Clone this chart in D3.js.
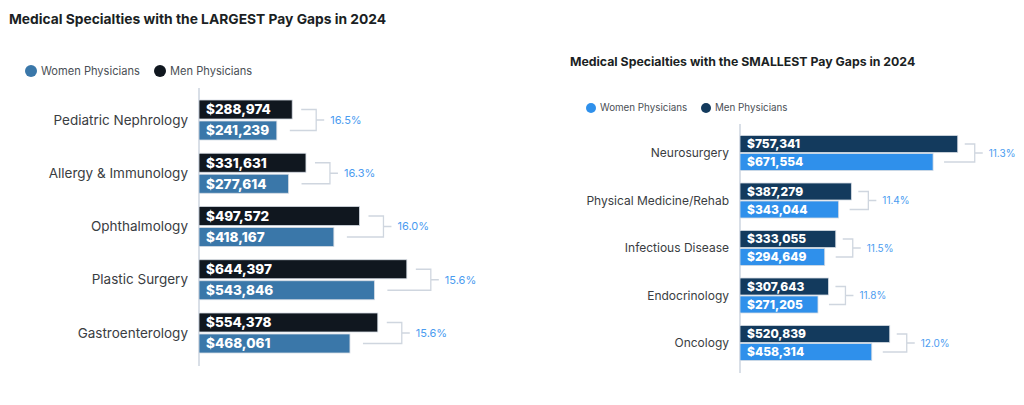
<!DOCTYPE html>
<html>
<head>
<meta charset="utf-8">
<script src="https://cdn.jsdelivr.net/npm/d3@7"></script>
<style>
  body { margin: 0; background: #fff; }
  svg { display: block; font-family: Inter, "Noto Sans", sans-serif; }
</style>
</head>
<body>
<div id="chart"></div>
<script>
// left panel: largest gaps
const largestCats = ['Pediatric Nephrology', 'Allergy & Immunology', 'Ophthalmology', 'Plastic Surgery', 'Gastroenterology'];
const largestMen = [288974, 331631, 497572, 644397, 554378];
const largestWomen = [241239, 277614, 418167, 543846, 468061];
const largestGap = ['16.5%', '16.3%', '16.0%', '15.6%', '15.6%'];

// right panel: smallest gaps
const smallestCats = ['Neurosurgery', 'Physical Medicine/Rehab', 'Infectious Disease', 'Endocrinology', 'Oncology'];
const smallestMen = [757341, 387279, 333055, 307643, 520839];
const smallestWomen = [671554, 343044, 294649, 271205, 458314];
const smallestGap = ['11.3%', '11.4%', '11.5%', '11.8%', '12.0%'];

const legendLabels = ['Women Physicians', 'Men Physicians'];

const svg = d3.select('#chart').append('svg')
  .attr('width', 1024).attr('height', 405);

const fmt = (v) => '$' + d3.format(',')(v);

const drawPanel = (cfg) => {
  const g = svg.append('g');

  g.append('text')
    .attr('x', cfg.titleX).attr('y', cfg.titleY)
    .attr('font-size', cfg.titleSize).attr('font-weight', 700)
    .attr('fill', '#1b1f24')
    .text(cfg.title);

  // legend
  const leg = g.append('g');
  [cfg.womenColor, cfg.menColor].forEach((c, i) => {
    leg.append('circle')
      .attr('cx', cfg.legX[i]).attr('cy', cfg.legY).attr('r', cfg.legR)
      .attr('fill', c);
    leg.append('text')
      .attr('x', cfg.legX[i] + cfg.legR + 4).attr('y', cfg.legY)
      .attr('dy', '0.35em')
      .attr('font-size', cfg.legSize).attr('fill', '#4a4f55')
      .text(legendLabels[i]);
  });

  const x = d3.scaleLinear().domain([0, 800000]).range([cfg.axisX, cfg.axisX + cfg.width]);
  const y = d3.scalePoint().domain(cfg.cats).range(cfg.yRange);

  g.append('line')
    .attr('x1', cfg.axisX).attr('x2', cfg.axisX)
    .attr('y1', cfg.axisTop).attr('y2', cfg.axisBottom)
    .attr('stroke', '#cdd5df').attr('stroke-width', 1.5);

  const rows = cfg.cats.map((c, i) => ({
    cat: c, men: cfg.men[i], women: cfg.women[i], gap: cfg.gap[i]
  }));

  const row = g.selectAll('g.row').data(rows).enter().append('g').attr('class', 'row');

  row.append('text')
    .attr('x', cfg.axisX - 11).attr('y', (d) => y(d.cat))
    .attr('dy', '0.35em').attr('text-anchor', 'end')
    .attr('font-size', cfg.catSize).attr('fill', '#3a3d42')
    .text((d) => d.cat);

  const h = cfg.barH;
  const half = cfg.barGap / 2;

  row.append('rect')
    .attr('x', x(0)).attr('y', (d) => y(d.cat) - half - h)
    .attr('width', (d) => x(d.men) - x(0)).attr('height', h)
    .attr('fill', cfg.menColor).attr('stroke', '#d5dbe3').attr('stroke-width', 0.8);

  row.append('rect')
    .attr('x', x(0)).attr('y', (d) => y(d.cat) + half)
    .attr('width', (d) => x(d.women) - x(0)).attr('height', h)
    .attr('fill', cfg.womenColor).attr('stroke', '#d5dbe3').attr('stroke-width', 0.8);

  row.append('text')
    .attr('x', x(0) + cfg.valPad).attr('y', (d) => y(d.cat) - half - h / 2)
    .attr('dy', '0.36em')
    .attr('font-size', cfg.valSize).attr('font-weight', 800).attr('fill', '#fff')
    .text((d) => fmt(d.men));

  row.append('text')
    .attr('x', x(0) + cfg.valPad).attr('y', (d) => y(d.cat) + half + h / 2)
    .attr('dy', '0.36em')
    .attr('font-size', cfg.valSize).attr('font-weight', 800).attr('fill', '#fff')
    .text((d) => fmt(d.women));

  // brackets
  const vx = (d) => x(Math.max(d.men, d.women)) + cfg.brk;
  row.append('path')
    .attr('fill', 'none').attr('stroke', '#cfd6df').attr('stroke-width', 1.3)
    .attr('d', (d) => {
      const ym = y(d.cat) - half - h / 2;
      const yw = y(d.cat) + half + h / 2;
      const v = vx(d);
      return `M${x(d.men) + cfg.brkPad},${ym}H${v}V${yw}H${x(d.women) + cfg.brkPad + 4}` +
        `M${v},${y(d.cat)}H${v + cfg.tick}`;
    });

  row.append('text')
    .attr('x', (d) => vx(d) + cfg.tick + 6).attr('y', (d) => y(d.cat))
    .attr('dy', '0.35em')
    .attr('font-size', cfg.gapSize).attr('fill', '#4b9cf0')
    .text((d) => d.gap);
};

drawPanel({
  title: 'Medical Specialties with the LARGEST Pay Gaps in 2024',
  titleX: 9, titleY: 24, titleSize: 13.8,
  legX: [31, 160], legY: 71, legR: 6, legSize: 11.1,
  cats: largestCats, men: largestMen, women: largestWomen, gap: largestGap,
  menColor: '#10171f', womenColor: '#3a77a9',
  axisX: 199, width: 258, axisTop: 88, axisBottom: 366,
  yRange: [120, 333], barH: 19, barGap: 2,
  catSize: 13.5, valSize: 13.5, valPad: 7,
  brk: 24, brkPad: 9, tick: 8, gapSize: 11
});

drawPanel({
  title: 'Medical Specialties with the SMALLEST Pay Gaps in 2024',
  titleX: 570, titleY: 66, titleSize: 12.3,
  legX: [591, 706], legY: 108, legR: 5, legSize: 9.8,
  cats: smallestCats, men: smallestMen, women: smallestWomen, gap: smallestGap,
  menColor: '#133a5d', womenColor: '#2f90eb',
  axisX: 740, width: 230, axisTop: 124, axisBottom: 373,
  yRange: [153, 343], barH: 17, barGap: 1,
  catSize: 12, valSize: 12, valPad: 7,
  brk: 17, brkPad: 7, tick: 8, gapSize: 10
});
</script>
</body>
</html>
